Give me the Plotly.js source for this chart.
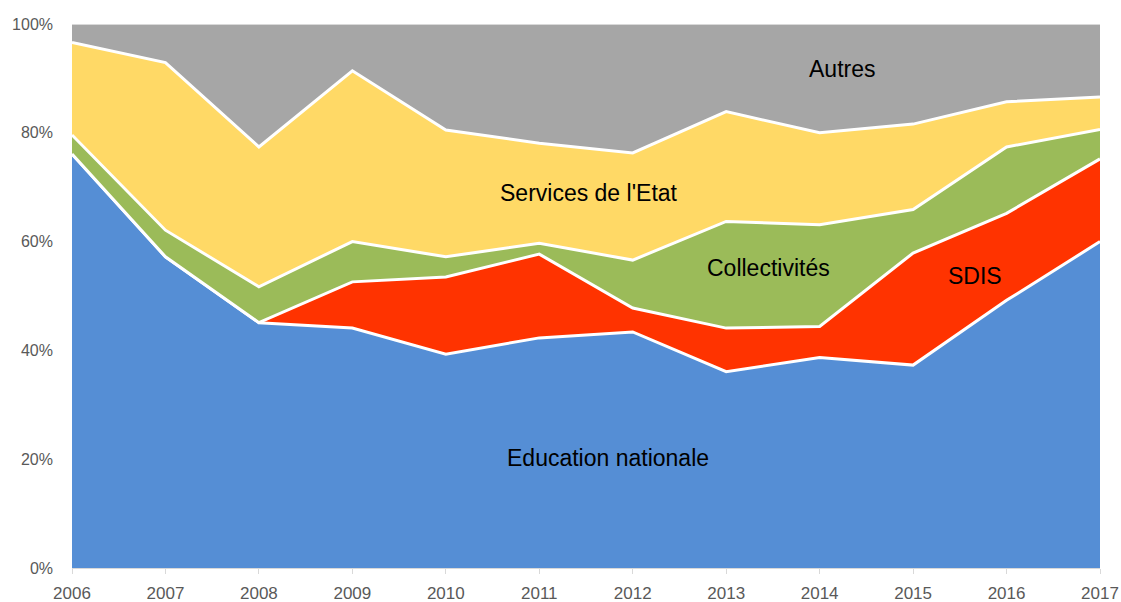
<!DOCTYPE html>
<html>
<head>
<meta charset="utf-8">
<script src="https://cdn.plot.ly/plotly-3.0.1.min.js"></script>
<style>html,body{margin:0;padding:0;background:#fff;}#chart{width:1121px;height:602px;}</style>
</head>
<body>
<div id="chart"></div>
<script>
const years = [2006, 2007, 2008, 2009, 2010, 2011, 2012, 2013, 2014, 2015, 2016, 2017];
const education = [76.1, 57.2, 45.1, 44.1, 39.3, 42.3, 43.4, 36.1, 38.7, 37.3, 49.2, 60.0];
const sdis = [0, 0, 0, 8.5, 14.2, 15.4, 4.4, 8.0, 5.7, 20.6, 16.0, 15.2];
const collectivites = [3.5, 4.9, 6.6, 7.4, 3.7, 2.0, 8.8, 19.6, 18.7, 8.0, 12.2, 5.4];
const services = [17.0, 30.8, 25.7, 31.4, 23.3, 18.4, 19.7, 20.2, 16.9, 15.7, 8.3, 6.0];
const autres = [3.4, 7.1, 22.6, 8.6, 19.5, 21.9, 23.7, 16.1, 20.0, 18.4, 14.3, 13.4];

const seriesNames = ["Education nationale", "SDIS", "Collectivités", "Services de l'Etat", "Autres"];
const seriesData = [education, sdis, collectivites, services, autres];
const colors = ["#558ed5", "#ff3300", "#9bbb59", "#ffd966", "#a6a6a6"];

const traces = seriesData.map((vals, i) => ({
  x: years,
  y: vals,
  name: seriesNames[i],
  type: 'scatter',
  mode: 'lines',
  stackgroup: 'one',
  fillcolor: colors[i],
  line: {color: i === 4 ? '#d9d9d9' : '#ffffff', width: i === 4 ? 2 : 3},
  hoverinfo: 'x+y+name'
}));

const labelFont = {family: 'Liberation Sans, Arial, sans-serif', size: 23, color: '#000000'};
const annotations = [
  {x: 2014.24, y: 91.7, text: 'Autres'},
  {x: 2011.53, y: 68.9, text: "Services de l'Etat"},
  {x: 2013.45, y: 55.1, text: 'Collectivités'},
  {x: 2015.66, y: 53.7, text: 'SDIS'},
  {x: 2011.74, y: 20.2, text: 'Education nationale'}
].map(a => Object.assign({xref: 'x', yref: 'y', showarrow: false, font: labelFont}, a));

const layout = {
  width: 1121, height: 602,
  margin: {l: 72, r: 21, t: 24, b: 34},
  paper_bgcolor: '#ffffff',
  plot_bgcolor: '#ffffff',
  showlegend: false,
  font: {family: 'Liberation Sans, Arial, sans-serif', color: '#595959', size: 16},
  xaxis: {
    range: [2006, 2017],
    tickvals: years,
    ticktext: years.map(String),
    showgrid: false,
    zeroline: false,
    showline: true,
    linecolor: '#d9d9d9',
    linewidth: 1,
    ticks: 'outside',
    ticklen: 5,
    tickcolor: '#d9d9d9',
    ticklabelstandoff: 5,
    tickfont: {size: 17, color: '#595959'}
  },
  yaxis: {
    range: [0, 100],
    tickvals: [0, 20, 40, 60, 80, 100],
    ticktext: ['0%', '20%', '40%', '60%', '80%', '100%'],
    showgrid: true,
    gridcolor: '#d9d9d9',
    zeroline: false,
    showline: false,
    ticks: '',
    ticklabelstandoff: 18,
    tickfont: {size: 16, color: '#595959'}
  },
  annotations: annotations
};

Plotly.newPlot('chart', traces, layout, {displayModeBar: false, staticPlot: true});
</script>
</body>
</html>
